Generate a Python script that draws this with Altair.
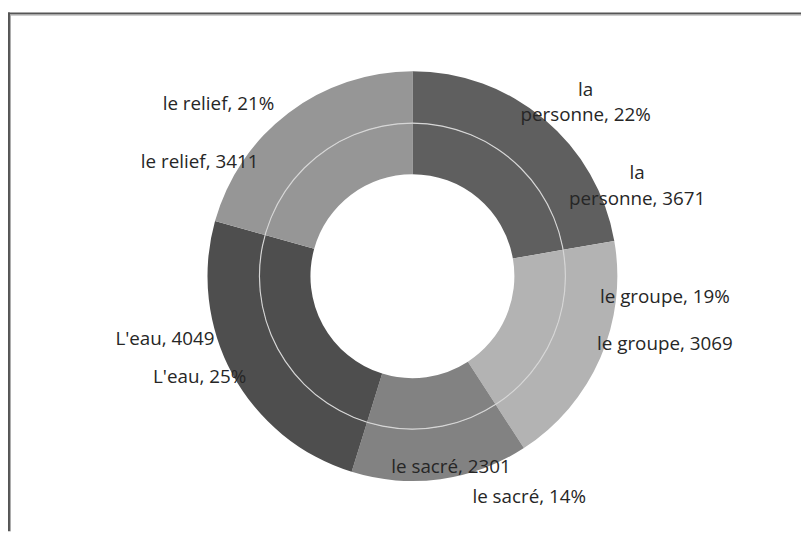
import altair as alt
import pandas as pd

# ---- data ----
categories = ["la personne", "le groupe", "le sacré", "L'eau", "le relief"]
counts = [3671, 3069, 2301, 4049, 3411]
percents = [22, 19, 14, 25, 21]
colors = ["#5f5f5f", "#b3b3b3", "#828282", "#4e4e4e", "#969696"]

wrapped = [c.replace("la personne", "la\npersonne") for c in categories]
df = pd.DataFrame({
    "cat": categories,
    "count": counts,
    "pct": percents,
    "idx": list(range(len(categories))),
    "lab_in": [f"{w}, {n}" for w, n in zip(wrapped, counts)],
    "lab_out": [f"{w}, {p}%" for w, p in zip(wrapped, percents)],
})

# ---- layout ----
W, H = 801, 526
CX, CY = 408.5, 268.2
R_OUT, R_MID, R_IN = 207, 154.5, 103
LABEL_R = 240
FONT = "Open Sans"
FS = 19
TXT = "#262626"

# label nudges (dx, dy) from the mid-angle anchor
nudge_out = {
    "la personne": (20.6, -4.5),
    "le groupe": (35, -75.2),
    "le sacré": (85.2, -14.9),
    "L'eau": (-4.2, -13),
    "le relief": (-50.8, 16.9),
}
nudge_in = {
    "la personne": (72.6, 79.5),
    "le groupe": (35, -27.2),
    "le sacré": (6.2, -44.9),
    "L'eau": (-39.2, -51),
    "le relief": (-69.8, 75.9),
}

base = alt.Chart(df).encode(
    theta=alt.Theta("count:Q", stack=True),
    order=alt.Order("idx:Q"),
    x=alt.value(CX),
    y=alt.value(CY),
)
color = alt.Color("cat:N", scale=alt.Scale(domain=categories, range=colors), legend=None)

outer = base.mark_arc(radius=R_OUT, radius2=R_MID).encode(color=color)
inner = base.mark_arc(radius=R_MID, radius2=R_IN).encode(color=color)

one = alt.Data(values=[{"k": 1}])
sep = alt.Chart(one).mark_arc(
    radius=R_MID + 0.6, radius2=R_MID - 0.6, theta=0, theta2=6.2832, color="#d6d6d6"
).encode(x=alt.value(CX), y=alt.value(CY))

frame = [
    alt.Chart(one).mark_rule(color="#555555", strokeWidth=2).encode(
        x=alt.value(0), x2=alt.value(W), y=alt.value(3)),
    alt.Chart(one).mark_rule(color="#aaaaaa", strokeWidth=1).encode(
        x=alt.value(2), x2=alt.value(W), y=alt.value(4.5)),
    alt.Chart(one).mark_rule(color="#555555", strokeWidth=2).encode(
        x=alt.value(1), y=alt.value(2), y2=alt.value(H)),
    alt.Chart(one).mark_rule(color="#aaaaaa", strokeWidth=1).encode(
        x=alt.value(2.5), y=alt.value(4), y2=alt.value(H)),
]

texts = []
for field, nudges in (("lab_out", nudge_out), ("lab_in", nudge_in)):
    for cat, (dx, dy) in nudges.items():
        texts.append(
            base.mark_text(
                radius=LABEL_R, dx=dx, dy=dy, lineBreak="\n", lineHeight=26,
                font=FONT, fontSize=FS, color=TXT, align="center", baseline="middle",
            ).encode(text=alt.condition(alt.datum.cat == cat, f"{field}:N", alt.value("")))
        )

chart = alt.layer(*frame, outer, inner, sep, *texts).properties(
    width=W, height=H, autosize="none", padding=0, background="white"
).configure_view(stroke=None)

chart.save("out.html", embed_options={"renderer": "svg", "actions": False})
